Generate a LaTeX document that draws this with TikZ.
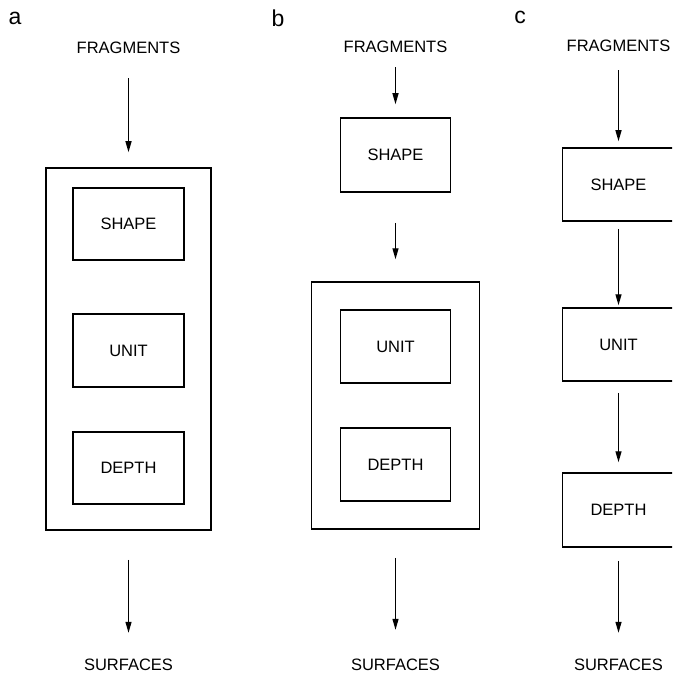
\documentclass[tikz,border=0pt]{standalone}
\usepackage{fontspec}
\setmainfont{Liberation Sans}
\usetikzlibrary{arrows.meta}
\tikzset{
  lbl/.style={inner sep=0pt, text height=11.5pt, text depth=0pt, font=\fontsize{16.5}{18}\selectfont},
  panel/.style={inner sep=0pt, anchor=center, font=\fontsize{23}{25}\selectfont},
  box/.style={draw, line width=1.5pt, inner sep=0pt, font=\fontsize{16.5}{18}\selectfont},
  arr/.style={line width=1.3pt, -{Triangle[length=11pt,width=6pt]}},
}
\begin{document}
\begin{tikzpicture}[x=1pt,y=-1pt]
\useasboundingbox (0,0) rectangle (672,676);
\clip (0,0) rectangle (672,676);
\fill[white] (0,0) rectangle (672,676);
% ---- panel a ----
\node[panel] (la) at (15,18) {a};
\node[lbl] (fa) at (128.5,48) {FRAGMENTS};
\node[box, minimum width=165pt, minimum height=362pt] (oa) at (128.5,349) {};
\node[box, minimum width=111pt, minimum height=72pt] (sa) at (128.5,224) {SHAPE};
\node[box, minimum width=111pt, minimum height=73pt] (ua) at (128.5,350.5) {UNIT};
\node[box, minimum width=111pt, minimum height=72pt] (da) at (128.5,468) {DEPTH};
\node[lbl] (sura) at (128.5,665) {SURFACES};
\draw[arr, shorten <=24.25pt, shorten >=15pt] (fa.south) -- (oa.north);
\draw[arr, shorten <=29pt, shorten >=26.25pt] (oa.south) -- (sura.north);
% ---- panel b ----
\node[panel] (lb) at (278,18) {b};
\node[lbl] (fb) at (395.5,47) {FRAGMENTS};
\node[box, minimum width=110pt, minimum height=74pt] (sb) at (395.5,155) {SHAPE};
\node[box, minimum width=168pt, minimum height=247pt] (ob) at (395.5,405.5) {};
\node[box, minimum width=110pt, minimum height=73pt] (ub) at (395.5,346.5) {UNIT};
\node[box, minimum width=110pt, minimum height=73pt] (db) at (395.5,464.5) {DEPTH};
\node[lbl] (surb) at (395.5,665) {SURFACES};
\draw[arr, shorten <=14.25pt, shorten >=13pt] (fb.south) -- (sb.north);
\draw[arr, shorten <=30pt, shorten >=22pt] (sb.south) -- (ob.north);
\draw[arr, shorten <=28pt, shorten >=29.25pt] (ob.south) -- (surb.north);
% ---- panel c ----
\node[panel] (lc) at (520,17) {c};
\node[lbl] (fc) at (618.5,46) {FRAGMENTS};
\node[box, minimum width=112pt, minimum height=73pt] (sc) at (618.5,184.5) {SHAPE};
\node[box, minimum width=112pt, minimum height=73pt] (uc) at (618.5,344.5) {UNIT};
\node[box, minimum width=112pt, minimum height=74pt] (dc) at (618.5,510) {DEPTH};
\node[lbl] (surc) at (618.5,665) {SURFACES};
\draw[arr, shorten <=18.25pt, shorten >=6pt] (fc.south) -- (sc.north);
\draw[arr, shorten <=7pt, shorten >=2pt] (sc.south) -- (uc.north);
\draw[arr, shorten <=11pt, shorten >=10pt] (uc.south) -- (dc.north);
\draw[arr, shorten <=13pt, shorten >=26.25pt] (dc.south) -- (surc.north);
\end{tikzpicture}
\end{document}
